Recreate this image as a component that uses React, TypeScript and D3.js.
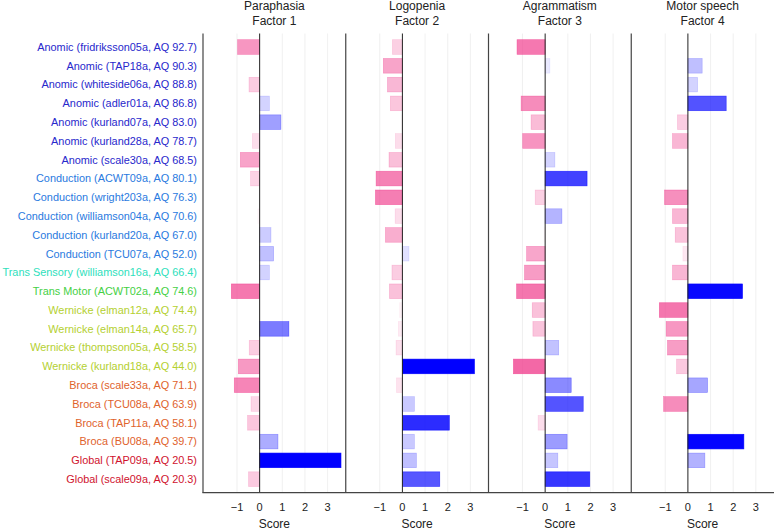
import React from "react";
import * as d3 from "d3";

const labels = [
  "Anomic (fridriksson05a, AQ 92.7)",
  "Anomic (TAP18a, AQ 90.3)",
  "Anomic (whiteside06a, AQ 88.8)",
  "Anomic (adler01a, AQ 86.8)",
  "Anomic (kurland07a, AQ 83.0)",
  "Anomic (kurland28a, AQ 78.7)",
  "Anomic (scale30a, AQ 68.5)",
  "Conduction (ACWT09a, AQ 80.1)",
  "Conduction (wright203a, AQ 76.3)",
  "Conduction (williamson04a, AQ 70.6)",
  "Conduction (kurland20a, AQ 67.0)",
  "Conduction (TCU07a, AQ 52.0)",
  "Trans Sensory (williamson16a, AQ 66.4)",
  "Trans Motor (ACWT02a, AQ 74.6)",
  "Wernicke (elman12a, AQ 74.4)",
  "Wernicke (elman14a, AQ 65.7)",
  "Wernicke (thompson05a, AQ 58.5)",
  "Wernicke (kurland18a, AQ 44.0)",
  "Broca (scale33a, AQ 71.1)",
  "Broca (TCU08a, AQ 63.9)",
  "Broca (TAP11a, AQ 58.1)",
  "Broca (BU08a, AQ 39.7)",
  "Global (TAP09a, AQ 20.5)",
  "Global (scale09a, AQ 20.3)",
];

const groupNames = ["Anomic", "Conduction", "Trans Sensory", "Trans Motor", "Wernicke", "Broca", "Global"];
const groupColors = ["#2828cc", "#2a7ae0", "#2ee0bc", "#45d045", "#b4d030", "#e0622c", "#d0122e"];

const panelTitles = ["Paraphasia", "Logopenia", "Agrammatism", "Motor speech"];
const panelSubtitles = ["Factor 1", "Factor 2", "Factor 3", "Factor 4"];

const factor1 = [-0.97, 0.0, -0.47, 0.43, 0.94, -0.32, -0.85, -0.4, 0.0, -0.08, 0.5, 0.62, 0.43, -1.25, 0.0, 1.29, -0.46, -0.94, -1.12, -0.38, -0.53, 0.81, 3.59, -0.49];
const factor2 = [-0.44, -0.84, -0.66, -0.53, -0.05, -0.31, -0.59, -1.16, -1.19, -0.32, -0.75, 0.29, -0.46, -0.57, -0.12, -0.18, -0.28, 3.18, -0.26, 0.53, 2.07, 0.53, 0.62, 1.65];
const factor3 = [-1.24, 0.21, 0.0, -1.06, -0.62, -0.99, 0.43, 1.85, -0.44, 0.74, -0.05, -0.82, -0.91, -1.26, -0.57, -0.54, 0.6, -1.4, 1.15, 1.68, -0.31, 0.97, 0.56, 1.97];
const factor4 = [0.0, 0.63, 0.43, 1.69, -0.46, -0.68, 0.0, 0.0, -1.03, -0.68, -0.56, -0.22, -0.68, 2.41, -1.26, -0.96, -0.9, -0.5, 0.87, -1.07, 0.0, 2.47, 0.75, 0.0];

const xTicks = [-1, 0, 1, 2, 3];
const gridTicks = [-1, 1, 2, 3];
const xDomain = [-2.5, 3.8];

const W = 774;
const H = 529;
const plotLeft = 203;
const plotRight = 774;
const plotTop = 33.5;
const plotBottom = 492.7;
const FONT = "'Liberation Sans', Arial, Helvetica, sans-serif";

function groupOf(label: string) {
  for (let i = 0; i < groupNames.length; i++) {
    if (label.startsWith(groupNames[i] + " ")) return i;
  }
  return 0;
}

function barColor(v: number) {
  if (v >= 0) {
    const a = Math.min(1, v / 2.5);
    return `rgba(0,0,255,${a.toFixed(3)})`;
  }
  const a = Math.min(1, -v / 1.8);
  return `rgba(240,60,140,${a.toFixed(3)})`;
}

export default function App() {
  const factors = [factor1, factor2, factor3, factor4];
  const panelW = (plotRight - plotLeft) / 4;
  const y = d3
    .scaleBand<string>()
    .domain(labels)
    .range([plotTop, plotBottom])
    .paddingInner(0.22)
    .paddingOuter(0.33);

  return (
    <svg
      width={W}
      height={H}
      style={{ position: "absolute", left: 0, top: 0, background: "#fff" }}
      fontFamily={FONT}
    >
      <rect x={0} y={0} width={W} height={H} fill="#fff" />
      {labels.map((lab) => (
        <text
          key={lab}
          x={197}
          y={(y(lab) as number) + y.bandwidth() / 2}
          dy="0.35em"
          textAnchor="end"
          fontSize={10.9}
          fill={groupColors[groupOf(lab)]}
        >
          {lab}
        </text>
      ))}
      {factors.map((vals, pi) => {
        const x0 = plotLeft + pi * panelW;
        const x = d3.scaleLinear().domain(xDomain).range([x0, x0 + panelW]);
        const cx = x0 + panelW / 2;
        return (
          <g key={pi}>
            {gridTicks.map((t) => (
              <line
                key={t}
                x1={x(t)}
                x2={x(t)}
                y1={plotTop}
                y2={plotBottom}
                stroke="#ececec"
                strokeWidth={0.8}
              />
            ))}
            {vals.map((v, i) => {
              const lab = labels[i];
              const x1 = x(Math.min(0, v));
              const x2 = x(Math.max(0, v));
              const c = barColor(v);
              return (
                <rect
                  key={lab}
                  x={x1}
                  y={y(lab)}
                  width={Math.max(0, x2 - x1)}
                  height={y.bandwidth()}
                  fill={c}
                  stroke={c}
                  strokeWidth={0.6}
                />
              );
            })}
            <line x1={x(0)} x2={x(0)} y1={plotTop} y2={plotBottom} stroke="#222" strokeWidth={1} />
            <line x1={x0} x2={x0} y1={plotTop} y2={plotBottom} stroke="#444" strokeWidth={1.2} />
            {xTicks.map((t) => (
              <text
                key={t}
                x={x(t)}
                y={506.7}
                dy="0.35em"
                textAnchor="middle"
                fontSize={11}
                fill="#222"
              >
                {t < 0 ? "\u2212" + Math.abs(t) : String(t)}
              </text>
            ))}
            <text x={cx} y={523.3} dy="0.35em" textAnchor="middle" fontSize={12} fill="#222">
              Score
            </text>
            <text x={cx} y={5.3} dy="0.35em" textAnchor="middle" fontSize={12} fill="#222">
              {panelTitles[pi]}
            </text>
            <text x={cx} y={20.3} dy="0.35em" textAnchor="middle" fontSize={12} fill="#222">
              {panelSubtitles[pi]}
            </text>
          </g>
        );
      })}
      <line x1={plotLeft - 0.6} x2={plotRight} y1={plotBottom} y2={plotBottom} stroke="#444" strokeWidth={1.2} />
    </svg>
  );
}
